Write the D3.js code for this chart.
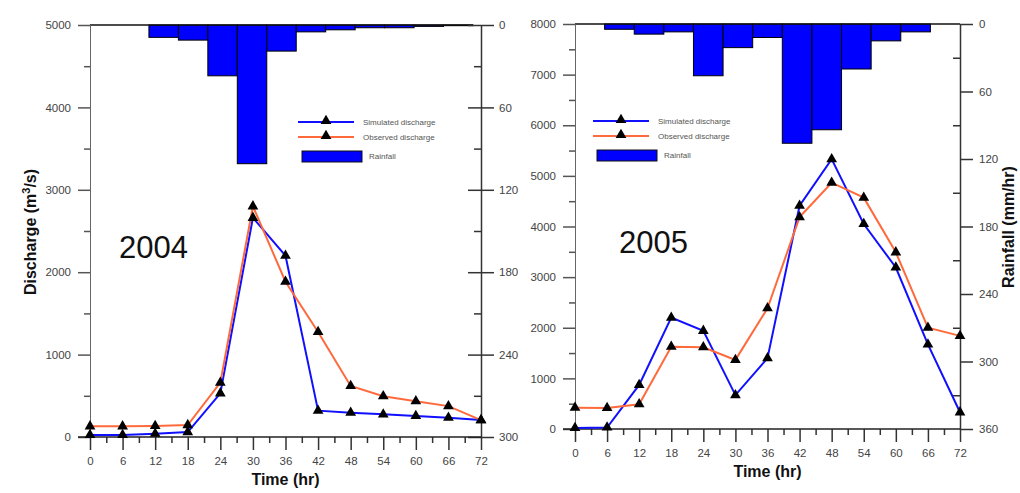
<!DOCTYPE html>
<html><head><meta charset="utf-8">
<script src="https://cdn.jsdelivr.net/npm/d3@7/dist/d3.min.js"></script>
<style>
body{margin:0;background:#fff}
text{font-family:Arial,"Liberation Sans",Helvetica,sans-serif}
</style>
</head><body>
<svg id="chart" width="1020" height="493"></svg>
<script>
// ---- data ----
const hours = [0, 6, 12, 18, 24, 30, 36, 42, 48, 54, 60, 66, 72];
const timeTickLabels = ["0","6","12","18","24","30","36","42","48","54","60","66","72"];
const rainBins = [0, 1, 2, 3, 4, 5, 6, 7, 8, 9, 10, 11, 12];

const sim2004 = [25, 25, 40, 60, 530, 2660, 2200, 320, 295, 275, 255, 235, 205];
const obs2004 = [130, 130, 135, 145, 660, 2800, 1885, 1275, 620, 495, 435, 375, 205];
const rain2004 = [0, 0, 9, 11, 37, 101, 19, 5, 3.5, 2, 2, 1, 0.5];

const sim2005 = [20, 30, 870, 2200, 1940, 670, 1400, 4410, 5330, 4050, 3190, 1670, 330];
const obs2005 = [420, 415, 490, 1625, 1615, 1365, 2385, 4185, 4865, 4570, 3490, 2000, 1840];
const rain2005 = [0, 4.7, 9, 7, 46, 21, 12, 106, 94, 40, 15, 7, 0];

const dischargeTicks2004 = [0, 1000, 2000, 3000, 4000, 5000];
const dischargeMinor2004 = [500, 1500, 2500, 3500, 4500];
const rainTicks2004 = [0, 60, 120, 180, 240, 300];
const rainMinor2004 = [30, 90, 150, 210, 270];

const dischargeTicks2005 = [0, 1000, 2000, 3000, 4000, 5000, 6000, 7000, 8000];
const dischargeMinor2005 = [500, 1500, 2500, 3500, 4500, 5500, 6500, 7500];
const rainTicks2005 = [0, 60, 120, 180, 240, 300, 360];
const rainMinor2005 = [30, 90, 150, 210, 270, 330];

const minorHours = [3, 9, 15, 21, 27, 33, 39, 45, 51, 57, 63, 69];

const legendLabels = ["Simulated discharge", "Observed discharge", "Rainfall"];

// ---- drawing ----
const svg = d3.select("#chart");
const BLUE = "#0000ff", LINEBLUE = "#1010ff", ORANGE = "#ff6a3d";
const TICKFONT = "11.5px";

function panel(o) {
  const g = svg.append("g");
  const x = d3.scaleLinear().domain([0, 72]).range([o.x0, o.x1]);
  const y = d3.scaleLinear().domain([0, o.yMax]).range([o.y0, o.y1]);
  const yr = d3.scaleLinear().domain([0, o.rMax]).range([o.y1, o.y0]);
  const band = d3.scaleBand().domain(rainBins).range([o.x0, o.bandEnd]).paddingInner(0).paddingOuter(0);

  // rainfall bars
  g.append("g").selectAll("rect").data(o.rain.map((v, i) => ({i, v})).filter(d => d.v > 0))
    .join("rect")
    .attr("x", d => band(d.i)).attr("width", band.bandwidth())
    .attr("y", yr(0)).attr("height", d => yr(d.v) - yr(0))
    .attr("fill", BLUE).attr("stroke", "#000").attr("stroke-width", 1);

  // top border
  g.append("line").attr("x1", o.x0).attr("x2", o.bandEnd).attr("y1", o.y1).attr("y2", o.y1)
    .attr("stroke", "#111").attr("stroke-width", 1.5);

  // left axis
  const la = g.append("g").attr("transform", `translate(${o.x0},0)`)
    .call(d3.axisLeft(y).tickValues(o.dTicks).tickSize(12).tickSizeOuter(0).tickPadding(7).tickFormat(d3.format("d")));
  la.select(".domain").attr("stroke", "#666").attr("stroke-width", 1);
  la.selectAll(".tick line").attr("stroke", "#555").attr("stroke-width", 1.5);
  la.selectAll("text").attr("fill", "#444").style("font-size", TICKFONT);
  const lm = g.append("g").attr("transform", `translate(${o.x0},0)`)
    .call(d3.axisLeft(y).tickValues(o.dMinor).tickSize(6).tickSizeOuter(0).tickFormat(""));
  lm.select(".domain").remove();
  lm.selectAll(".tick line").attr("stroke", "#555").attr("stroke-width", 1.5);

  // right axis
  const ra = g.append("g").attr("transform", `translate(${o.x1},0)`)
    .call(d3.axisRight(yr).tickValues(o.rTicks).tickSize(13).tickSizeOuter(0).tickPadding(o.rPad).tickFormat(d3.format("d")));
  ra.select(".domain").attr("stroke", "#333").attr("stroke-width", 1.5);
  ra.selectAll(".tick line").attr("stroke", "#333").attr("stroke-width", 1.5);
  ra.selectAll("text").attr("fill", "#444").style("font-size", TICKFONT);
  const rm = g.append("g").attr("transform", `translate(${o.x1},0)`)
    .call(d3.axisLeft(yr).tickValues(o.rMinor).tickSize(7).tickSizeOuter(0).tickFormat(""));
  rm.select(".domain").remove();
  rm.selectAll(".tick line").attr("stroke", "#333").attr("stroke-width", 1.5);
  if (o.crossTicks) {
    const rc = g.append("g").attr("transform", `translate(${o.x1},0)`)
      .call(d3.axisLeft(yr).tickValues(o.rTicks).tickSize(13).tickSizeOuter(0).tickFormat(""));
    rc.select(".domain").remove();
    rc.selectAll(".tick line").attr("stroke", "#333").attr("stroke-width", 1.5);
  }

  // bottom axis
  const ba = g.append("g").attr("transform", `translate(0,${o.y0})`)
    .call(d3.axisBottom(x).tickValues(hours).tickSize(13).tickSizeOuter(0).tickPadding(7)
      .tickFormat((d, i) => timeTickLabels[i]));
  ba.select(".domain").remove();
  ba.selectAll(".tick line").attr("stroke", "#333").attr("stroke-width", 1.5);
  ba.selectAll("text").attr("fill", "#444").style("font-size", TICKFONT);
  const bm = g.append("g").attr("transform", `translate(0,${o.y0})`)
    .call(d3.axisBottom(x).tickValues(minorHours).tickSize(6).tickSizeOuter(0).tickFormat(""));
  bm.select(".domain").remove();
  bm.selectAll(".tick line").attr("stroke", "#333").attr("stroke-width", 1.5);
  g.append("line").attr("x1", o.x0 - 12).attr("x2", o.x1)
    .attr("y1", o.y0).attr("y2", o.y0).attr("stroke", "#222").attr("stroke-width", 1.6);

  // lines
  const line = d3.line().x((d, i) => x(hours[i])).y(d => y(d));
  g.append("path").datum(o.sim).attr("d", line).attr("fill", "none").attr("stroke", LINEBLUE).attr("stroke-width", 2);
  g.append("path").datum(o.obs).attr("d", line).attr("fill", "none").attr("stroke", ORANGE).attr("stroke-width", 2);
  const tri = d3.symbol().type(d3.symbolTriangle).size(50);
  [o.sim, o.obs].forEach(s => {
    g.append("g").selectAll("path").data(s).join("path")
      .attr("d", tri).attr("transform", (d, i) => `translate(${x(hours[i])},${y(d)})`)
      .attr("fill", "#000");
  });

  // year label
  g.append("text").attr("x", o.yearX).attr("y", o.yearY).text(o.year)
    .style("font-size", "31px").attr("fill", "#111");

  // axis title
  g.append("text").attr("x", (o.x0 + o.x1) / 2).attr("y", o.y0 + 48).attr("text-anchor", "middle")
    .style("font-size", "16px").style("font-weight", "bold").attr("fill", "#111").text("Time (hr)");

  // legend
  const L = g.append("g").attr("transform", `translate(${o.legX},${o.legY})`);
  [[LINEBLUE, 0], [ORANGE, 15]].forEach(([c, dy], k) => {
    L.append("line").attr("x1", 0).attr("x2", 56).attr("y1", dy).attr("y2", dy).attr("stroke", c).attr("stroke-width", 2);
    L.append("path").attr("d", tri).attr("transform", `translate(28,${dy - 1})`).attr("fill", "#000");
    L.append("text").attr("x", 65).attr("y", dy + 3).text(legendLabels[k]).style("font-size", "8px").attr("fill", "#555");
  });
  L.append("rect").attr("x", 4).attr("y", 29).attr("width", 60).attr("height", 11)
    .attr("fill", BLUE).attr("stroke", "#111").attr("stroke-width", 1);
  L.append("text").attr("x", 71).attr("y", 37).text(legendLabels[2]).style("font-size", "8px").attr("fill", "#555");
}

panel({x0: 90, x1: 481, bandEnd: 473, y0: 437, y1: 25, yMax: 5000, rMax: 300,
  dTicks: dischargeTicks2004, dMinor: dischargeMinor2004, rTicks: rainTicks2004, rMinor: rainMinor2004,
  sim: sim2004, obs: obs2004, rain: rain2004, crossTicks: true, rPad: 5,
  year: "2004", yearX: 119, yearY: 258, legX: 298, legY: 122});

panel({x0: 575, x1: 960, bandEnd: 960, y0: 429, y1: 24, yMax: 8000, rMax: 360,
  dTicks: dischargeTicks2005, dMinor: dischargeMinor2005, rTicks: rainTicks2005, rMinor: rainMinor2005,
  sim: sim2005, obs: obs2005, rain: rain2005, crossTicks: false, rPad: 6,
  year: "2005", yearX: 619, yearY: 253, legX: 593, legY: 121});

// y titles
const t1 = svg.append("text").attr("transform", "translate(36,232) rotate(-90)").attr("text-anchor", "middle")
  .style("font-size", "16px").style("font-weight", "bold").attr("fill", "#111");
t1.append("tspan").text("Discharge (m");
t1.append("tspan").text("3").attr("dy", -6).style("font-size", "11px");
t1.append("tspan").text("/s)").attr("dy", 6);

svg.append("text").attr("transform", "translate(1014,227) rotate(-90)").attr("text-anchor", "middle")
  .style("font-size", "16px").style("font-weight", "bold").attr("fill", "#111").text("Rainfall (mm/hr)");
</script>
</body></html>
